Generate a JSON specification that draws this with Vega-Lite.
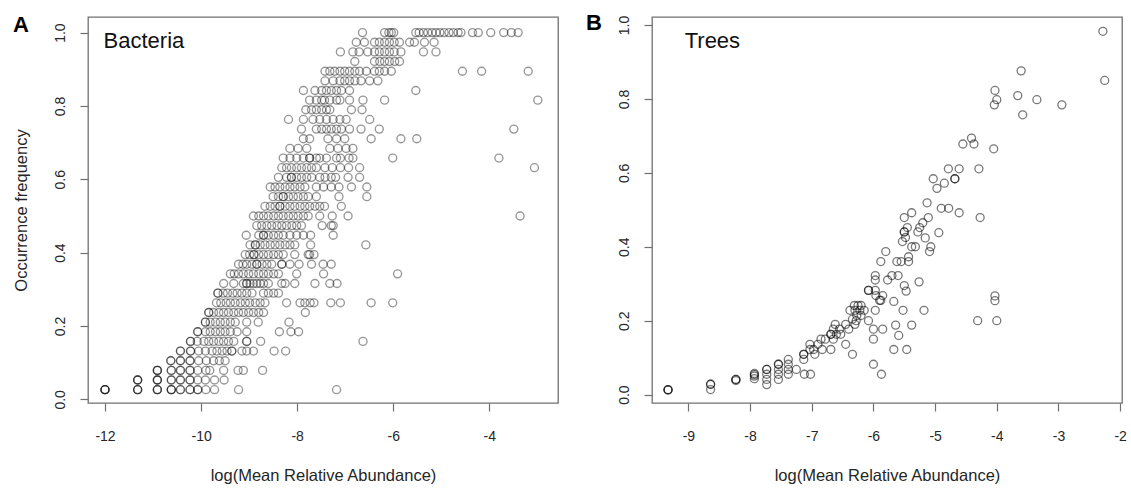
{
"$schema": "https://vega.github.io/schema/vega-lite/v6.json",
"background": "white",
"padding": {"left": 12, "top": 11, "right": 5, "bottom": 5},
"autosize": {"type": "pad"},
"spacing": 94,
"bounds": "flush",
"config": {
  "font": "Liberation Sans",
  "view": {"stroke": "#707070", "strokeWidth": 1.3},
  "axis": {"grid": false, "domain": false, "ticks": true, "tickColor": "#707070", "tickSize": 8, "tickWidth": 1.2,
    "labelFont": "Liberation Sans", "labelFontSize": 14, "labelColor": "#262626",
    "titleFont": "Liberation Sans", "titleFontSize": 16.5, "titleFontWeight": "normal", "titleColor": "#262626"},
  "title": {"font": "Liberation Sans", "fontSize": 22, "fontWeight": "bold", "color": "#000000", "anchor": "start", "frame": "bounds", "baseline": "alphabetic"}
},
"datasets": {
"bacteria": [
{"x":-12,"y":0.0263},{"x":-12,"y":0.0263},{"x":-12,"y":0.0263},{"x":-12,"y":0.0263},{"x":-11.32,"y":0.0263},{"x":-11.32,"y":0.0263},{"x":-11.32,"y":0.0263},{"x":-10.91,"y":0.0263},{"x":-10.91,"y":0.0263},{"x":-10.91,"y":0.0263},{"x":-10.62,"y":0.0263},{"x":-10.62,"y":0.0263},{"x":-10.62,"y":0.0263},{"x":-10.43,"y":0.0263},{"x":-10.43,"y":0.0263},{"x":-10.23,"y":0.0263},{"x":-10.23,"y":0.0263},{"x":-10.07,"y":0.0263},{"x":-10.07,"y":0.0263},{"x":-9.9,"y":0.0263},{"x":-9.72,"y":0.0263},{"x":-9.22,"y":0.0263},{"x":-7.18,"y":0.0263},
{"x":-11.32,"y":0.0526},{"x":-11.32,"y":0.0526},{"x":-11.32,"y":0.0526},{"x":-10.91,"y":0.0526},{"x":-10.91,"y":0.0526},{"x":-10.91,"y":0.0526},{"x":-10.62,"y":0.0526},{"x":-10.62,"y":0.0526},{"x":-10.43,"y":0.0526},{"x":-10.43,"y":0.0526},{"x":-10.23,"y":0.0526},{"x":-10.23,"y":0.0526},{"x":-10.07,"y":0.0526},{"x":-9.91,"y":0.0526},{"x":-9.72,"y":0.0526},{"x":-9.52,"y":0.0526},
{"x":-10.91,"y":0.0789},{"x":-10.91,"y":0.0789},{"x":-10.91,"y":0.0789},{"x":-10.62,"y":0.0789},{"x":-10.62,"y":0.0789},{"x":-10.43,"y":0.0789},{"x":-10.43,"y":0.0789},{"x":-10.23,"y":0.0789},{"x":-10.23,"y":0.0789},{"x":-10.07,"y":0.0789},{"x":-9.9,"y":0.0789},{"x":-9.82,"y":0.0789},{"x":-9.53,"y":0.0789},{"x":-9.23,"y":0.0789},{"x":-9.12,"y":0.0789},{"x":-8.72,"y":0.0789},
{"x":-10.63,"y":0.1053},{"x":-10.63,"y":0.1053},{"x":-10.43,"y":0.1053},{"x":-10.43,"y":0.1053},{"x":-10.23,"y":0.1053},{"x":-10.23,"y":0.1053},{"x":-10.05,"y":0.1053},{"x":-9.89,"y":0.1053},{"x":-9.74,"y":0.1053},{"x":-9.62,"y":0.1053},{"x":-9.5,"y":0.1053},
{"x":-10.43,"y":0.1316},{"x":-10.43,"y":0.1316},{"x":-10.22,"y":0.1316},{"x":-10.22,"y":0.1316},{"x":-10.05,"y":0.1316},{"x":-9.91,"y":0.1316},{"x":-9.77,"y":0.1316},{"x":-9.67,"y":0.1316},{"x":-9.56,"y":0.1316},{"x":-9.46,"y":0.1316},{"x":-9.36,"y":0.1316},{"x":-9.36,"y":0.1316},{"x":-9.15,"y":0.1316},{"x":-9.05,"y":0.1316},{"x":-8.91,"y":0.1316},{"x":-8.48,"y":0.1316},{"x":-8.24,"y":0.1316},
{"x":-10.22,"y":0.1579},{"x":-10.22,"y":0.1579},{"x":-10.08,"y":0.1579},{"x":-9.94,"y":0.1579},{"x":-9.84,"y":0.1579},{"x":-9.74,"y":0.1579},{"x":-9.63,"y":0.1579},{"x":-9.53,"y":0.1579},{"x":-9.43,"y":0.1579},{"x":-9.32,"y":0.1579},{"x":-9.05,"y":0.1579},{"x":-9.05,"y":0.1579},{"x":-8.76,"y":0.1579},{"x":-6.63,"y":0.1579},
{"x":-10.07,"y":0.1842},{"x":-10.07,"y":0.1842},{"x":-9.91,"y":0.1842},{"x":-9.81,"y":0.1842},{"x":-9.7,"y":0.1842},{"x":-9.6,"y":0.1842},{"x":-9.5,"y":0.1842},{"x":-9.39,"y":0.1842},{"x":-9.25,"y":0.1842},{"x":-9.05,"y":0.1842},{"x":-8.37,"y":0.1842},{"x":-8.13,"y":0.1842},{"x":-7.97,"y":0.1842},
{"x":-9.91,"y":0.2105},{"x":-9.91,"y":0.2105},{"x":-9.81,"y":0.2105},{"x":-9.7,"y":0.2105},{"x":-9.6,"y":0.2105},{"x":-9.5,"y":0.2105},{"x":-9.39,"y":0.2105},{"x":-9.29,"y":0.2105},{"x":-9.05,"y":0.2105},{"x":-8.81,"y":0.2105},{"x":-8.17,"y":0.2105},
{"x":-9.84,"y":0.2368},{"x":-9.84,"y":0.2368},{"x":-9.74,"y":0.2368},{"x":-9.63,"y":0.2368},{"x":-9.53,"y":0.2368},{"x":-9.43,"y":0.2368},{"x":-9.32,"y":0.2368},{"x":-9.22,"y":0.2368},{"x":-9.12,"y":0.2368},{"x":-9.01,"y":0.2368},{"x":-8.91,"y":0.2368},{"x":-8.8,"y":0.2368},{"x":-8.7,"y":0.2368},{"x":-7.83,"y":0.2368},
{"x":-9.68,"y":0.2632},{"x":-9.59,"y":0.2632},{"x":-9.48,"y":0.2632},{"x":-9.39,"y":0.2632},{"x":-9.29,"y":0.2632},{"x":-9.18,"y":0.2632},{"x":-9.08,"y":0.2632},{"x":-8.99,"y":0.2632},{"x":-8.87,"y":0.2632},{"x":-8.77,"y":0.2632},{"x":-8.67,"y":0.2632},{"x":-8.22,"y":0.2632},{"x":-7.94,"y":0.2632},{"x":-7.84,"y":0.2632},{"x":-7.73,"y":0.2632},{"x":-7.65,"y":0.2632},{"x":-7.3,"y":0.2632},{"x":-7.1,"y":0.2632},{"x":-6.46,"y":0.2632},{"x":-6.01,"y":0.2632},
{"x":-9.65,"y":0.2895},{"x":-9.65,"y":0.2895},{"x":-9.54,"y":0.2895},{"x":-9.45,"y":0.2895},{"x":-9.34,"y":0.2895},{"x":-9.25,"y":0.2895},{"x":-9.15,"y":0.2895},{"x":-9.05,"y":0.2895},{"x":-8.94,"y":0.2895},{"x":-8.7,"y":0.2895},{"x":-8.6,"y":0.2895},{"x":-8.49,"y":0.2895},{"x":-8.39,"y":0.2895},
{"x":-9.53,"y":0.3158},{"x":-9.32,"y":0.3158},{"x":-9.12,"y":0.3158},{"x":-9.05,"y":0.3158},{"x":-9.05,"y":0.3158},{"x":-8.98,"y":0.3158},{"x":-8.91,"y":0.3158},{"x":-8.84,"y":0.3158},{"x":-8.77,"y":0.3158},{"x":-8.7,"y":0.3158},{"x":-8.6,"y":0.3158},{"x":-8.32,"y":0.3158},{"x":-8.25,"y":0.3158},{"x":-8.05,"y":0.3158},{"x":-7.63,"y":0.3158},{"x":-7.32,"y":0.3158},{"x":-7.17,"y":0.3158},
{"x":-9.39,"y":0.3421},{"x":-9.31,"y":0.3421},{"x":-9.22,"y":0.3421},{"x":-9.12,"y":0.3421},{"x":-9.01,"y":0.3421},{"x":-8.91,"y":0.3421},{"x":-8.8,"y":0.3421},{"x":-8.7,"y":0.3421},{"x":-8.6,"y":0.3421},{"x":-8.49,"y":0.3421},{"x":-8.39,"y":0.3421},{"x":-8.01,"y":0.3421},{"x":-7.45,"y":0.3421},{"x":-5.91,"y":0.3421},
{"x":-9.22,"y":0.3684},{"x":-9.13,"y":0.3684},{"x":-9.05,"y":0.3684},{"x":-8.94,"y":0.3684},{"x":-8.84,"y":0.3684},{"x":-8.84,"y":0.3684},{"x":-8.73,"y":0.3684},{"x":-8.63,"y":0.3684},{"x":-8.53,"y":0.3684},{"x":-8.32,"y":0.3684},{"x":-8.32,"y":0.3684},{"x":-8.15,"y":0.3684},{"x":-7.96,"y":0.3684},{"x":-7.7,"y":0.3684},{"x":-7.46,"y":0.3684},{"x":-7.29,"y":0.3684},
{"x":-9.08,"y":0.3947},{"x":-8.99,"y":0.3947},{"x":-8.9,"y":0.3947},{"x":-8.9,"y":0.3947},{"x":-8.8,"y":0.3947},{"x":-8.7,"y":0.3947},{"x":-8.6,"y":0.3947},{"x":-8.49,"y":0.3947},{"x":-8.39,"y":0.3947},{"x":-8.29,"y":0.3947},{"x":-8.05,"y":0.3947},{"x":-7.77,"y":0.3947},{"x":-7.74,"y":0.3947},{"x":-7.65,"y":0.3947},
{"x":-8.98,"y":0.4211},{"x":-8.87,"y":0.4211},{"x":-8.87,"y":0.4211},{"x":-8.77,"y":0.4211},{"x":-8.67,"y":0.4211},{"x":-8.56,"y":0.4211},{"x":-8.46,"y":0.4211},{"x":-8.36,"y":0.4211},{"x":-8.25,"y":0.4211},{"x":-8.15,"y":0.4211},{"x":-8.05,"y":0.4211},{"x":-7.72,"y":0.4211},{"x":-6.57,"y":0.4211},
{"x":-9.06,"y":0.4474},{"x":-8.8,"y":0.4474},{"x":-8.7,"y":0.4474},{"x":-8.7,"y":0.4474},{"x":-8.6,"y":0.4474},{"x":-8.49,"y":0.4474},{"x":-8.39,"y":0.4474},{"x":-8.29,"y":0.4474},{"x":-8.15,"y":0.4474},{"x":-8.01,"y":0.4474},{"x":-7.87,"y":0.4474},{"x":-7.72,"y":0.4474},{"x":-7.25,"y":0.4474},
{"x":-8.84,"y":0.4737},{"x":-8.74,"y":0.4737},{"x":-8.63,"y":0.4737},{"x":-8.53,"y":0.4737},{"x":-8.42,"y":0.4737},{"x":-8.32,"y":0.4737},{"x":-8.22,"y":0.4737},{"x":-8.11,"y":0.4737},{"x":-8.01,"y":0.4737},{"x":-7.91,"y":0.4737},{"x":-7.48,"y":0.4737},{"x":-7.29,"y":0.4737},{"x":-7.25,"y":0.4737},
{"x":-8.91,"y":0.5},{"x":-8.8,"y":0.5},{"x":-8.7,"y":0.5},{"x":-8.6,"y":0.5},{"x":-8.49,"y":0.5},{"x":-8.39,"y":0.5},{"x":-8.29,"y":0.5},{"x":-8.18,"y":0.5},{"x":-8.08,"y":0.5},{"x":-7.98,"y":0.5},{"x":-7.87,"y":0.5},{"x":-7.77,"y":0.5},{"x":-7.53,"y":0.5},{"x":-7.27,"y":0.5},{"x":-6.94,"y":0.5},{"x":-3.36,"y":0.5},
{"x":-8.67,"y":0.5263},{"x":-8.56,"y":0.5263},{"x":-8.46,"y":0.5263},{"x":-8.36,"y":0.5263},{"x":-8.36,"y":0.5263},{"x":-8.25,"y":0.5263},{"x":-8.15,"y":0.5263},{"x":-8.05,"y":0.5263},{"x":-7.94,"y":0.5263},{"x":-7.84,"y":0.5263},{"x":-7.74,"y":0.5263},{"x":-7.63,"y":0.5263},{"x":-7.53,"y":0.5263},{"x":-7.43,"y":0.5263},{"x":-7.08,"y":0.5263},
{"x":-8.5,"y":0.5526},{"x":-8.39,"y":0.5526},{"x":-8.29,"y":0.5526},{"x":-8.29,"y":0.5526},{"x":-8.18,"y":0.5526},{"x":-8.08,"y":0.5526},{"x":-7.98,"y":0.5526},{"x":-7.87,"y":0.5526},{"x":-7.77,"y":0.5526},{"x":-7.6,"y":0.5526},{"x":-7.13,"y":0.5526},{"x":-6.55,"y":0.5526},
{"x":-8.56,"y":0.5789},{"x":-8.46,"y":0.5789},{"x":-8.36,"y":0.5789},{"x":-8.25,"y":0.5789},{"x":-8.15,"y":0.5789},{"x":-8.05,"y":0.5789},{"x":-7.94,"y":0.5789},{"x":-7.84,"y":0.5789},{"x":-7.6,"y":0.5789},{"x":-7.45,"y":0.5789},{"x":-7.29,"y":0.5789},{"x":-7.13,"y":0.5789},{"x":-6.87,"y":0.5789},{"x":-6.55,"y":0.5789},
{"x":-8.39,"y":0.6053},{"x":-8.22,"y":0.6053},{"x":-8.12,"y":0.6053},{"x":-8.12,"y":0.6053},{"x":-8.01,"y":0.6053},{"x":-7.91,"y":0.6053},{"x":-7.8,"y":0.6053},{"x":-7.7,"y":0.6053},{"x":-7.53,"y":0.6053},{"x":-7.42,"y":0.6053},{"x":-7.29,"y":0.6053},{"x":-7.2,"y":0.6053},{"x":-6.94,"y":0.6053},{"x":-6.7,"y":0.6053},
{"x":-8.32,"y":0.6316},{"x":-8.22,"y":0.6316},{"x":-8.12,"y":0.6316},{"x":-8.01,"y":0.6316},{"x":-7.91,"y":0.6316},{"x":-7.8,"y":0.6316},{"x":-7.7,"y":0.6316},{"x":-7.6,"y":0.6316},{"x":-7.42,"y":0.6316},{"x":-7.27,"y":0.6316},{"x":-7.1,"y":0.6316},{"x":-6.93,"y":0.6316},{"x":-6.7,"y":0.6316},{"x":-3.06,"y":0.6316},
{"x":-8.29,"y":0.6579},{"x":-8.15,"y":0.6579},{"x":-8.01,"y":0.6579},{"x":-7.87,"y":0.6579},{"x":-7.74,"y":0.6579},{"x":-7.74,"y":0.6579},{"x":-7.6,"y":0.6579},{"x":-7.53,"y":0.6579},{"x":-7.39,"y":0.6579},{"x":-7.18,"y":0.6579},{"x":-7.1,"y":0.6579},{"x":-6.92,"y":0.6579},{"x":-6.84,"y":0.6579},{"x":-6.01,"y":0.6579},{"x":-3.8,"y":0.6579},
{"x":-8.15,"y":0.6842},{"x":-7.98,"y":0.6842},{"x":-7.8,"y":0.6842},{"x":-7.32,"y":0.6842},{"x":-7.15,"y":0.6842},{"x":-6.98,"y":0.6842},{"x":-6.84,"y":0.6842},
{"x":-7.87,"y":0.7105},{"x":-7.74,"y":0.7105},{"x":-7.36,"y":0.7105},{"x":-7.18,"y":0.7105},{"x":-7.01,"y":0.7105},{"x":-6.46,"y":0.7105},{"x":-5.84,"y":0.7105},{"x":-5.51,"y":0.7105},
{"x":-7.91,"y":0.7368},{"x":-7.6,"y":0.7368},{"x":-7.49,"y":0.7368},{"x":-7.39,"y":0.7368},{"x":-7.29,"y":0.7368},{"x":-7.18,"y":0.7368},{"x":-7.08,"y":0.7368},{"x":-6.91,"y":0.7368},{"x":-6.67,"y":0.7368},{"x":-6.29,"y":0.7368},{"x":-3.49,"y":0.7368},
{"x":-8.18,"y":0.7632},{"x":-7.87,"y":0.7632},{"x":-7.67,"y":0.7632},{"x":-7.53,"y":0.7632},{"x":-7.39,"y":0.7632},{"x":-7.25,"y":0.7632},{"x":-7.11,"y":0.7632},{"x":-6.98,"y":0.7632},{"x":-6.49,"y":0.7632},
{"x":-7.82,"y":0.7895},{"x":-7.7,"y":0.7895},{"x":-7.6,"y":0.7895},{"x":-7.49,"y":0.7895},{"x":-7.39,"y":0.7895},{"x":-7.32,"y":0.7895},{"x":-6.87,"y":0.7895},{"x":-6.65,"y":0.7895},
{"x":-7.74,"y":0.8158},{"x":-7.6,"y":0.8158},{"x":-7.49,"y":0.8158},{"x":-7.43,"y":0.8158},{"x":-7.32,"y":0.8158},{"x":-7.18,"y":0.8158},{"x":-7.11,"y":0.8158},{"x":-6.91,"y":0.8158},{"x":-6.63,"y":0.8158},{"x":-6.18,"y":0.8158},{"x":-2.99,"y":0.8158},
{"x":-7.87,"y":0.8421},{"x":-7.63,"y":0.8421},{"x":-7.49,"y":0.8421},{"x":-7.39,"y":0.8421},{"x":-7.29,"y":0.8421},{"x":-7.18,"y":0.8421},{"x":-7.08,"y":0.8421},{"x":-6.91,"y":0.8421},{"x":-5.53,"y":0.8421},
{"x":-7.42,"y":0.8684},{"x":-7.25,"y":0.8684},{"x":-7.11,"y":0.8684},{"x":-7.01,"y":0.8684},{"x":-6.91,"y":0.8684},{"x":-6.8,"y":0.8684},{"x":-6.67,"y":0.8684},{"x":-6.49,"y":0.8684},{"x":-6.32,"y":0.8684},
{"x":-7.42,"y":0.8947},{"x":-7.32,"y":0.8947},{"x":-7.22,"y":0.8947},{"x":-7.11,"y":0.8947},{"x":-7.01,"y":0.8947},{"x":-6.91,"y":0.8947},{"x":-6.8,"y":0.8947},{"x":-6.7,"y":0.8947},{"x":-6.56,"y":0.8947},{"x":-6.39,"y":0.8947},{"x":-6.29,"y":0.8947},{"x":-6.18,"y":0.8947},{"x":-6.04,"y":0.8947},{"x":-4.56,"y":0.8947},{"x":-4.16,"y":0.8947},{"x":-3.19,"y":0.8947},
{"x":-6.8,"y":0.9211},{"x":-6.39,"y":0.9211},{"x":-6.28,"y":0.9211},{"x":-6.18,"y":0.9211},{"x":-6.08,"y":0.9211},{"x":-5.97,"y":0.9211},{"x":-5.87,"y":0.9211},
{"x":-7.1,"y":0.9474},{"x":-6.84,"y":0.9474},{"x":-6.71,"y":0.9474},{"x":-6.53,"y":0.9474},{"x":-6.39,"y":0.9474},{"x":-6.29,"y":0.9474},{"x":-6.18,"y":0.9474},{"x":-6.08,"y":0.9474},{"x":-5.98,"y":0.9474},{"x":-5.84,"y":0.9474},{"x":-5.37,"y":0.9474},{"x":-5.11,"y":0.9474},
{"x":-6.77,"y":0.9737},{"x":-6.6,"y":0.9737},{"x":-6.39,"y":0.9737},{"x":-6.29,"y":0.9737},{"x":-6.18,"y":0.9737},{"x":-6.08,"y":0.9737},{"x":-5.98,"y":0.9737},{"x":-5.87,"y":0.9737},{"x":-5.66,"y":0.9737},{"x":-5.56,"y":0.9737},{"x":-5.35,"y":0.9737},{"x":-5.15,"y":0.9737},
{"x":-6.64,"y":1},{"x":-6.18,"y":1},{"x":-6.09,"y":1},{"x":-6.04,"y":1},{"x":-5.99,"y":1},{"x":-5.53,"y":1},{"x":-5.46,"y":1},{"x":-5.37,"y":1},{"x":-5.28,"y":1},{"x":-5.19,"y":1},{"x":-5.11,"y":1},{"x":-5.03,"y":1},{"x":-4.94,"y":1},{"x":-4.84,"y":1},{"x":-4.75,"y":1},{"x":-4.65,"y":1},{"x":-4.59,"y":1},{"x":-4.35,"y":1},{"x":-4.23,"y":1},{"x":-3.97,"y":1},{"x":-3.7,"y":1},{"x":-3.54,"y":1},{"x":-3.4,"y":1}
],
"trees": [
{"x":-9.33,"y":0.0125},{"x":-9.33,"y":0.0125},{"x":-9.33,"y":0.0135},
{"x":-8.64,"y":0.028},{"x":-8.64,"y":0.028},{"x":-8.64,"y":0.0135},
{"x":-8.23,"y":0.041},{"x":-8.23,"y":0.041},{"x":-8.23,"y":0.038},
{"x":-7.93,"y":0.057},{"x":-7.93,"y":0.05},{"x":-7.93,"y":0.043},{"x":-7.93,"y":0.054},
{"x":-7.73,"y":0.068},{"x":-7.73,"y":0.068},{"x":-7.73,"y":0.055},{"x":-7.73,"y":0.041},{"x":-7.73,"y":0.027},
{"x":-7.54,"y":0.082},{"x":-7.54,"y":0.082},{"x":-7.54,"y":0.068},{"x":-7.54,"y":0.055},{"x":-7.54,"y":0.041},
{"x":-7.38,"y":0.095},{"x":-7.38,"y":0.082},{"x":-7.38,"y":0.068},{"x":-7.38,"y":0.055},
{"x":-7.25,"y":0.068},
{"x":-7.13,"y":0.109},{"x":-7.13,"y":0.109},{"x":-7.13,"y":0.095},{"x":-7.12,"y":0.055},{"x":-7.02,"y":0.055},
{"x":-7.03,"y":0.136},{"x":-7.03,"y":0.122},{"x":-6.97,"y":0.122},{"x":-6.95,"y":0.109},
{"x":-6.9,"y":0.136},{"x":-6.85,"y":0.15},{"x":-6.83,"y":0.122},{"x":-6.78,"y":0.15},
{"x":-6.69,"y":0.163},{"x":-6.69,"y":0.163},{"x":-6.69,"y":0.122},{"x":-6.65,"y":0.177},{"x":-6.65,"y":0.15},{"x":-6.62,"y":0.19},{"x":-6.6,"y":0.163},{"x":-6.55,"y":0.177},
{"x":-6.53,"y":0.163},{"x":-6.45,"y":0.19},{"x":-6.45,"y":0.136},{"x":-6.4,"y":0.177},{"x":-6.34,"y":0.204},{"x":-6.34,"y":0.109},
{"x":-6.38,"y":0.228},{"x":-6.31,"y":0.241},{"x":-6.3,"y":0.228},{"x":-6.27,"y":0.214},{"x":-6.25,"y":0.241},{"x":-6.22,"y":0.228},{"x":-6.2,"y":0.241},{"x":-6.15,"y":0.228},{"x":-6.3,"y":0.19},{"x":-6.28,"y":0.2},{"x":-6.2,"y":0.214},
{"x":-6.08,"y":0.282},{"x":-6.08,"y":0.282},{"x":-6.08,"y":0.2},{"x":-6,"y":0.177},{"x":-6,"y":0.15},{"x":-6,"y":0.082},{"x":-5.97,"y":0.282},{"x":-5.97,"y":0.31},{"x":-5.97,"y":0.322},{"x":-5.97,"y":0.228},{"x":-5.96,"y":0.268},{"x":-5.9,"y":0.255},{"x":-5.88,"y":0.255},{"x":-5.85,"y":0.268},{"x":-5.85,"y":0.177},{"x":-5.87,"y":0.055},
{"x":-5.88,"y":0.36},{"x":-5.8,"y":0.387},{"x":-5.77,"y":0.31},{"x":-5.7,"y":0.322},
{"x":-5.67,"y":0.252},{"x":-5.64,"y":0.188},{"x":-5.67,"y":0.122},{"x":-5.6,"y":0.322},{"x":-5.62,"y":0.36},{"x":-5.59,"y":0.16},{"x":-5.55,"y":0.36},{"x":-5.52,"y":0.228},{"x":-5.5,"y":0.295},{"x":-5.47,"y":0.28},{"x":-5.46,"y":0.122},{"x":-5.38,"y":0.188},{"x":-5.43,"y":0.36},
{"x":-5.53,"y":0.414},{"x":-5.5,"y":0.44},{"x":-5.5,"y":0.44},{"x":-5.45,"y":0.452},{"x":-5.48,"y":0.425},{"x":-5.5,"y":0.479},{"x":-5.38,"y":0.492},{"x":-5.43,"y":0.373},{"x":-5.38,"y":0.4},{"x":-5.32,"y":0.4},{"x":-5.28,"y":0.44},{"x":-5.26,"y":0.305},{"x":-5.25,"y":0.452},{"x":-5.2,"y":0.465},{"x":-5.16,"y":0.424},{"x":-5.11,"y":0.479},{"x":-5.09,"y":0.387},{"x":-5.07,"y":0.4},{"x":-5.18,"y":0.228},
{"x":-5.13,"y":0.519},{"x":-5.03,"y":0.584},{"x":-4.97,"y":0.558},{"x":-4.94,"y":0.438},{"x":-4.9,"y":0.504},{"x":-4.85,"y":0.572},{"x":-4.78,"y":0.504},{"x":-4.785,"y":0.611},{"x":-4.68,"y":0.584},{"x":-4.68,"y":0.584},{"x":-4.61,"y":0.611},{"x":-4.61,"y":0.492},
{"x":-4.55,"y":0.678},{"x":-4.41,"y":0.694},{"x":-4.37,"y":0.678},{"x":-4.31,"y":0.2},{"x":-4.29,"y":0.611},{"x":-4.27,"y":0.479},
{"x":-4.05,"y":0.665},{"x":-4.03,"y":0.823},{"x":-4,"y":0.798},{"x":-4.04,"y":0.784},{"x":-4.03,"y":0.267},{"x":-4.03,"y":0.254},{"x":-4,"y":0.2},
{"x":-3.66,"y":0.809},{"x":-3.605,"y":0.876},{"x":-3.58,"y":0.757},{"x":-3.35,"y":0.798},{"x":-2.945,"y":0.784},{"x":-2.28,"y":0.983},{"x":-2.25,"y":0.85}
]
},
"hconcat": [
{
  "width": 470, "height": 386,
  "title": {"text": "A", "offset": -20},
  "layer": [
    {
      "data": {"name": "bacteria"},
      "mark": {"type": "point", "shape": "circle", "filled": false, "size": 64, "strokeWidth": 1.35, "color": "#000000", "strokeOpacity": 0.58},
      "encoding": {
        "x": {"field": "x", "type": "quantitative", "scale": {"domain": [-12.354, -2.57], "nice": false, "zero": false},
              "axis": {"values": [-12, -10, -8, -6, -4], "labelExpr": "toString(datum.value)", "labelPadding": 18, "title": "log(Mean Relative Abundance)", "titlePadding": 24}},
        "y": {"field": "y", "type": "quantitative", "scale": {"domain": [-0.01, 1.0425], "nice": false, "zero": false},
              "axis": {"values": [0, 0.2, 0.4, 0.6, 0.8, 1], "format": ".1f", "labelAngle": -90, "labelAlign": "center", "labelBaseline": "alphabetic", "labelPadding": 16, "title": "Occurrence frequency", "titlePadding": 24}}
      }
    },
    {
      "data": {"values": [{"x": -12.03, "y": 0.959, "label": "Bacteria"}]},
      "mark": {"type": "text", "align": "left", "baseline": "alphabetic", "fontSize": 22, "font": "Liberation Sans", "color": "#111111"},
      "encoding": {
        "x": {"field": "x", "type": "quantitative"},
        "y": {"field": "y", "type": "quantitative"},
        "text": {"field": "label"}
      }
    }
  ]
},
{
  "width": 470, "height": 386,
  "title": {"text": "B", "offset": -20, "dx": -31},
  "layer": [
    {
      "data": {"name": "trees"},
      "mark": {"type": "point", "shape": "circle", "filled": false, "size": 64, "strokeWidth": 1.3, "color": "#000000", "strokeOpacity": 0.75},
      "encoding": {
        "x": {"field": "x", "type": "quantitative", "scale": {"domain": [-9.59, -1.97], "nice": false, "zero": false},
              "axis": {"values": [-9, -8, -7, -6, -5, -4, -3, -2], "labelExpr": "toString(datum.value)", "labelPadding": 18, "title": "log(Mean Relative Abundance)", "titlePadding": 24}},
        "y": {"field": "y", "type": "quantitative", "scale": {"domain": [-0.0228, 1.0217], "nice": false, "zero": false},
              "axis": {"values": [0, 0.2, 0.4, 0.6, 0.8, 1], "format": ".1f", "labelAngle": -90, "labelAlign": "center", "labelBaseline": "alphabetic", "labelPadding": 16, "title": null}}
      }
    },
    {
      "data": {"values": [{"x": -9.06, "y": 0.9385, "label": "Trees"}]},
      "mark": {"type": "text", "align": "left", "baseline": "alphabetic", "fontSize": 22, "font": "Liberation Sans", "color": "#111111"},
      "encoding": {
        "x": {"field": "x", "type": "quantitative"},
        "y": {"field": "y", "type": "quantitative"},
        "text": {"field": "label"}
      }
    }
  ]
}
]
}
